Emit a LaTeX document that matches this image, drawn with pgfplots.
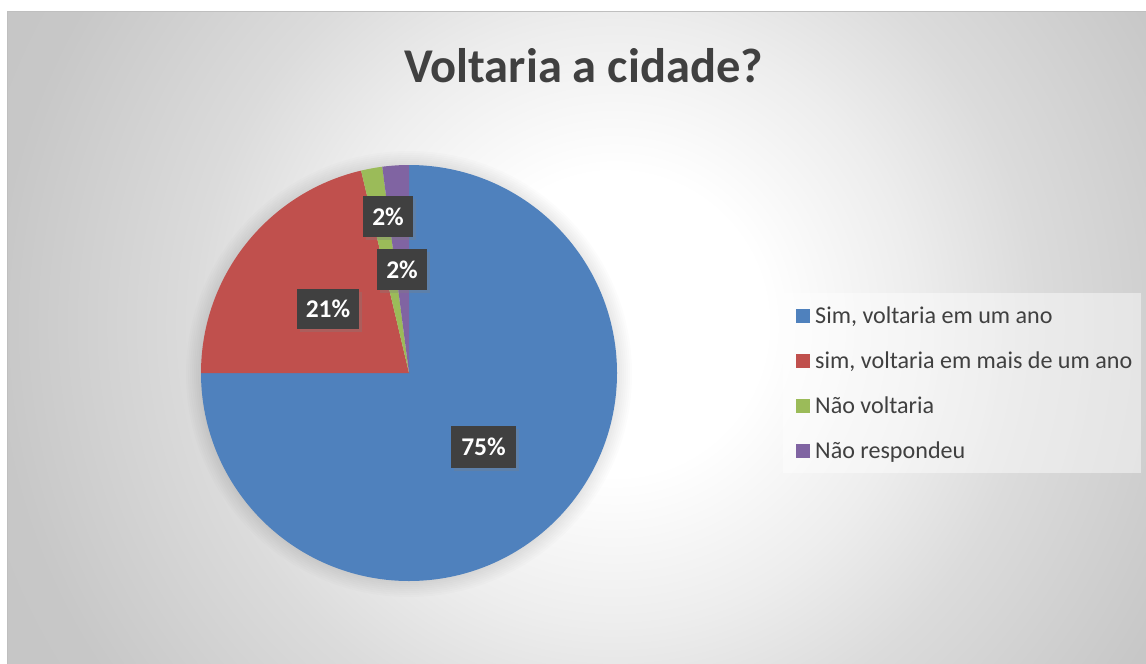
\documentclass[border=0pt]{standalone}
\usepackage{pgfplots}
\pgfplotsset{compat=1.18}
\usepackage{fontspec}
\setmainfont{Carlito}
\usetikzlibrary{shadows}
\definecolor{cBlue}{HTML}{4F81BD}
\definecolor{cRed}{HTML}{C0504D}
\definecolor{cGreen}{HTML}{9BBB59}
\definecolor{cPurple}{HTML}{8064A2}
\definecolor{txt}{HTML}{404040}
\definecolor{lblbg}{HTML}{404040}
\pgfdeclareradialshading{bgshade}{\pgfpoint{0bp}{0bp}}{color(0bp)=(white); color(150bp)=(white); color(300bp)=(black!7); color(420bp)=(black!14); color(620bp)=(black!22); color(800bp)=(black!23)}
% data (percent)
\def\vA{75}
\def\vB{21.3}
\def\vC{1.65}
\def\vD{2.05}
\pgfmathsetmacro\aA{90-3.6*\vA}
\pgfmathsetmacro\aB{\aA-3.6*\vB}
\pgfmathsetmacro\aC{\aB-3.6*\vC}
\pgfmathsetmacro\aD{\aC-3.6*\vD}
\begin{document}
\begin{tikzpicture}[x=1pt,y=1pt]
\begin{scope}
\clip (7,0) rectangle (1146,652);
\begin{scope}[shift={(615,340)}]
\pgftext{\pgfuseshading{bgshade}}
\end{scope}
% soft halo / shadow of the pie
\foreach \k in {1,3,...,15} {\fill[black, opacity=0.012] (409,290) circle ({208+\k});}
\end{scope}
\draw[color=black!25, line width=1pt] (7,0) -- (7,652) -- (1146,652);
\begin{axis}[at={(0,0)}, anchor=south west, width=1146pt, height=664pt, scale only axis,
  xmin=0, xmax=1146, ymin=0, ymax=664, y dir=reverse, hide axis, clip=false]
  % pie
  \fill[cBlue] (axis cs:409,373) -- ++(90:208pt) arc[start angle=90, end angle=\aA, radius=208pt] -- cycle;
  \fill[cRed] (axis cs:409,373) -- ++(\aA:208pt) arc[start angle=\aA, end angle=\aB, radius=208pt] -- cycle;
  \fill[cGreen] (axis cs:409,373) -- ++(\aB:208pt) arc[start angle=\aB, end angle=\aC, radius=208pt] -- cycle;
  \fill[cPurple] (axis cs:409,373) -- ++(\aC:208pt) arc[start angle=\aC, end angle=\aD, radius=208pt] -- cycle;
  % data labels
  \tikzset{lbl/.style={fill=lblbg, text=white, inner sep=0pt, font=\bfseries\fontsize{25.5}{30}\selectfont,
     drop shadow={shadow xshift=3pt, shadow yshift=-3pt, opacity=0.3}}}
  \node[lbl, minimum width=65pt, minimum height=42pt] at (axis cs:483.5,447) {75\%};
  \node[lbl, minimum width=62pt, minimum height=40pt] at (axis cs:328,309) {21\%};
  \node[lbl, minimum width=50pt, minimum height=41pt] at (axis cs:388,216.5) {2\%};
  \node[lbl, minimum width=50pt, minimum height=41pt] at (axis cs:402,269.5) {2\%};
  % title
  \node[anchor=base, text=txt, font=\bfseries\fontsize{48.5}{58}\selectfont] at (axis cs:583.5,82) {Voltaria a cidade?};
  % legend
  \fill[white, opacity=0.45] (axis cs:783,293) rectangle (axis cs:1141,473);
  \fill[cBlue] (axis cs:796,309) rectangle (axis cs:810,323);
  \fill[cRed] (axis cs:796,354) rectangle (axis cs:810,368);
  \fill[cGreen] (axis cs:796,399) rectangle (axis cs:810,413);
  \fill[cPurple] (axis cs:796,444) rectangle (axis cs:810,458);
  \tikzset{leg/.style={anchor=base west, inner sep=0pt, text=txt, font=\fontsize{24.1}{29}\selectfont}}
  \node[leg] at (axis cs:815,323) {Sim, voltaria em um ano};
  \node[leg] at (axis cs:815,368) {sim, voltaria em mais de um ano};
  \node[leg] at (axis cs:815,413) {Não voltaria};
  \node[leg] at (axis cs:815,458) {Não respondeu};
\end{axis}
\pgfresetboundingbox
\useasboundingbox (0,0) rectangle (1146,664);
\end{tikzpicture}
\end{document}
